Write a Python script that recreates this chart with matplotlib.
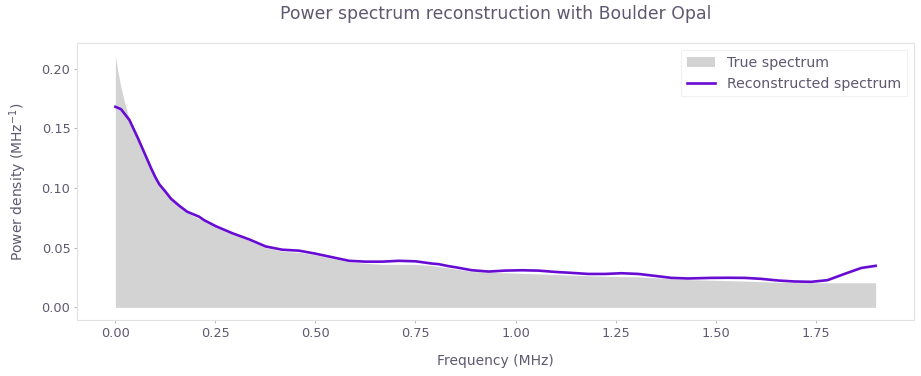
import numpy as np
import matplotlib.pyplot as plt

# values
freq_true = [0.000, 0.006, 0.014, 0.022, 0.031, 0.035, 0.056, 0.077, 0.097, 0.118, 0.139,
             0.160, 0.180, 0.222, 0.251, 0.293, 0.334, 0.376, 0.417, 0.459, 0.500, 0.542,
             0.584, 0.625, 0.667, 0.708, 0.750, 0.791, 0.833, 0.891, 0.974, 1.057, 1.140,
             1.224, 1.307, 1.390, 1.431, 1.573, 1.656, 1.739, 1.900]
true_spec = [0.211, 0.198, 0.184, 0.173, 0.162, 0.157, 0.141, 0.125, 0.110, 0.099, 0.090,
             0.084, 0.079, 0.072, 0.067, 0.061, 0.056, 0.050, 0.047, 0.046, 0.044, 0.041,
             0.038, 0.037, 0.036, 0.036, 0.036, 0.035, 0.033, 0.030, 0.029, 0.028, 0.027,
             0.026, 0.0256, 0.024, 0.0233, 0.022, 0.021, 0.0206, 0.0206]

freq_recon = [0.000, 0.014, 0.035, 0.056, 0.077, 0.090, 0.100, 0.110, 0.125, 0.139, 0.160,
              0.180, 0.209, 0.222, 0.251, 0.293, 0.334, 0.376, 0.417, 0.459, 0.500, 0.542,
              0.584, 0.625, 0.667, 0.708, 0.750, 0.791, 0.808, 0.833, 0.850, 0.891, 0.933,
              0.974, 1.016, 1.057, 1.099, 1.140, 1.182, 1.224, 1.265, 1.307, 1.348, 1.390,
              1.431, 1.489, 1.531, 1.573, 1.614, 1.656, 1.697, 1.739, 1.780, 1.822, 1.864,
              1.900]
recon_spec = [0.168, 0.166, 0.157, 0.142, 0.126, 0.116, 0.109, 0.103, 0.097, 0.091, 0.085,
              0.080, 0.076, 0.073, 0.068, 0.062, 0.057, 0.051, 0.0483, 0.0475, 0.045, 0.042,
              0.039, 0.0383, 0.0383, 0.039, 0.0386, 0.0367, 0.0362, 0.0345, 0.0336, 0.0311,
              0.030, 0.0308, 0.0311, 0.0308, 0.0297, 0.0289, 0.028, 0.028, 0.0286, 0.028,
              0.0264, 0.0247, 0.0242, 0.0247, 0.0248, 0.0247, 0.0239, 0.0225, 0.0217, 0.0214,
              0.0228, 0.028, 0.033, 0.0348]

xticks = [0, 0.25, 0.5, 0.75, 1.0, 1.25, 1.5, 1.75]
yticks = [0, 0.05, 0.1, 0.15, 0.2]

txt = '#5f5870'
frame = '#e2e2e2'

fig = plt.figure(figsize=(9.21, 3.76), dpi=100)
ax = fig.add_axes([0.084, 0.149, 0.908, 0.737])

ax.fill_between(freq_true, 0, true_spec, color='#d3d3d3', lw=0, label='True spectrum')
ax.plot(freq_recon, recon_spec, color='#680cd4', lw=1.9, label='Reconstructed spectrum',
        solid_joinstyle='round')

ax.set_xticks(xticks)
ax.set_yticks(yticks)
ax.tick_params(colors=txt, labelsize=9.3, color='#bbbbbb', length=2.5, pad=2.5)
for s in ax.spines.values():
    s.set_color(frame)

ax.set_xlabel('Frequency (MHz)', color=txt, fontsize=10, labelpad=10)
ax.set_ylabel('Power density (MHz$^{-1}$)', color=txt, fontsize=10, labelpad=9)
ax.set_title('Power spectrum reconstruction with Boulder Opal', color=txt, fontsize=12.4, pad=17)

leg = ax.legend(loc='upper right', fontsize=10.2, frameon=True, edgecolor='#eeeeee',
                fancybox=False, borderaxespad=0.5)
leg.get_frame().set_linewidth(0.8)
for t in leg.get_texts():
    t.set_color(txt)

fig.savefig('out.png', dpi=100)
